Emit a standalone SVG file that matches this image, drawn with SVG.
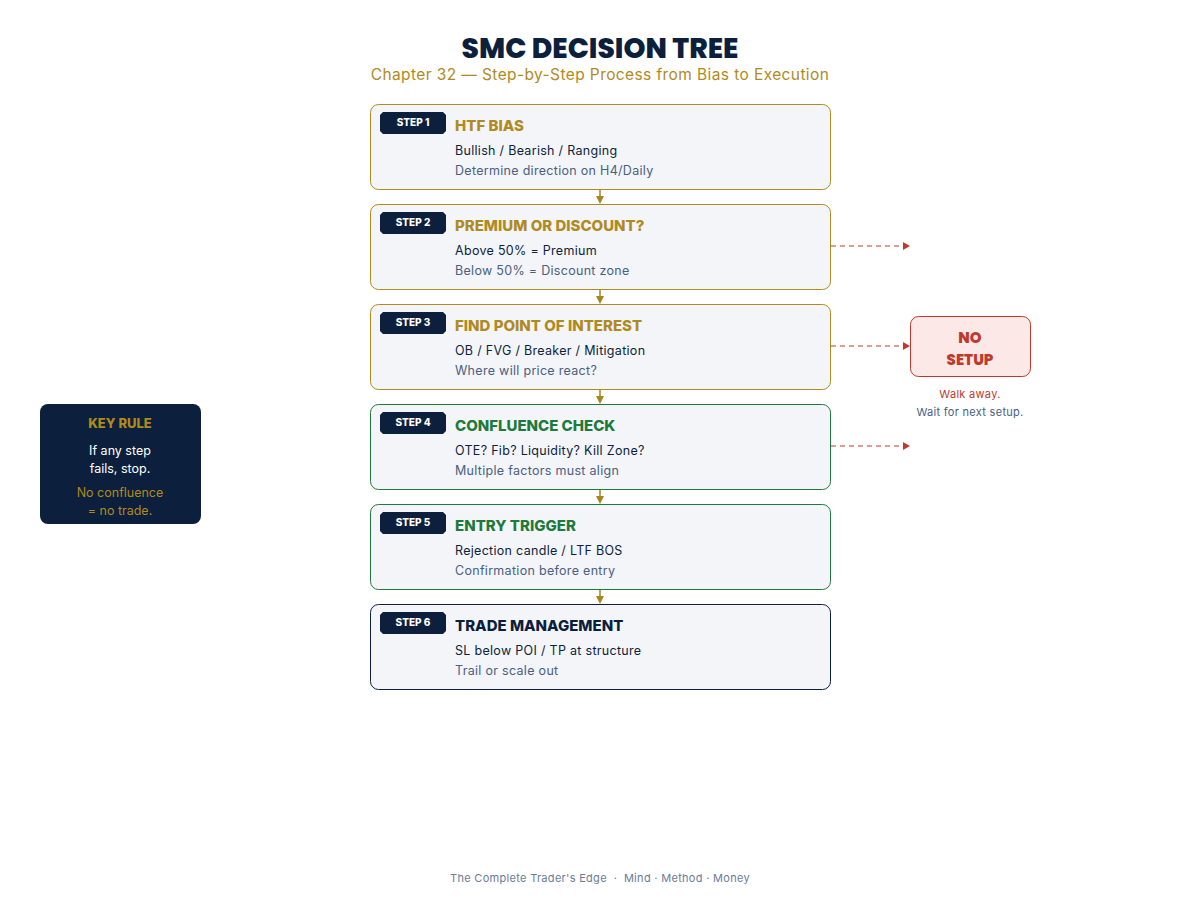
<svg xmlns="http://www.w3.org/2000/svg" width="1200" height="900" viewBox="0 0 1200 900">
<style>
.box{fill:#f3f5f9;stroke-width:1}
.gold{stroke:#b08a1e}.green{stroke:#1e7a3c}.navy{stroke:#0c1f3c}
.badge{fill:#0c1f3c}
.bt{font-family:Inter,"Liberation Sans",sans-serif;font-size:10px;font-weight:800;fill:#fff}
.h{font-family:Inter,"Liberation Sans",sans-serif;font-size:15px;font-weight:800}
.l1{font-family:Inter,"Liberation Sans",sans-serif;font-size:12.5px;fill:#0c1f3c;letter-spacing:0.3px}
.l2{font-family:Inter,"Liberation Sans",sans-serif;font-size:12.5px;fill:#4a6080;letter-spacing:0.3px}
.down{stroke:#a8841c;stroke-width:1.5}
.ah{fill:#a8841c}
.dash{stroke:#c0392b;stroke-width:1.2;stroke-dasharray:5 4;fill:none}
</style>
<defs>
<marker id="ar" markerWidth="8" markerHeight="8" refX="7" refY="4" orient="auto" markerUnits="userSpaceOnUse"><path d="M0,0 L7,4 L0,8 Z" fill="#c0392b"/></marker>
</defs>
<rect width="1200" height="900" fill="#fff"/>
<text x="600" y="58" text-anchor="middle" font-family="Poppins,Inter,'Liberation Sans',sans-serif" font-size="28" font-weight="800" fill="#0c1f3c">SMC DECISION TREE</text>
<text x="600" y="80" text-anchor="middle" font-family="Inter,'Liberation Sans',sans-serif" font-size="15.5" letter-spacing="0.4" fill="#b08a1e">Chapter 32 — Step-by-Step Process from Bias to Execution</text>

<g id="connectors">
<line class="down" x1="600" y1="190" x2="600" y2="197"/><polygon class="ah" points="596,196 604,196 600,204"/>
<line class="down" x1="600" y1="290" x2="600" y2="297"/><polygon class="ah" points="596,296 604,296 600,304"/>
<line class="down" x1="600" y1="390" x2="600" y2="397"/><polygon class="ah" points="596,396 604,396 600,404"/>
<line class="down" x1="600" y1="490" x2="600" y2="497"/><polygon class="ah" points="596,496 604,496 600,504"/>
<line class="down" x1="600" y1="590" x2="600" y2="597"/><polygon class="ah" points="596,596 604,596 600,604"/>
<line class="dash" x1="831" y1="246" x2="910" y2="246" marker-end="url(#ar)"/>
<line class="dash" x1="831" y1="346" x2="910" y2="346" marker-end="url(#ar)"/>
<line class="dash" x1="831" y1="446" x2="910" y2="446" marker-end="url(#ar)"/>
</g>

<g id="step1"><rect class="box gold" x="370.5" y="104.5" width="460" height="85" rx="8"/>
<polygon class="badge" points="383,112 443,112 446,115 446,131 443,134 383,134 380,131 380,115"/>
<text class="bt" x="413" y="126" text-anchor="middle">STEP 1</text>
<text class="h" x="455" y="131" fill="#b08a1e">HTF BIAS</text>
<text class="l1" x="455" y="155">Bullish / Bearish / Ranging</text>
<text class="l2" x="455" y="175">Determine direction on H4/Daily</text></g>

<g id="step2"><rect class="box gold" x="370.5" y="204.5" width="460" height="85" rx="8"/>
<polygon class="badge" points="383,212 443,212 446,215 446,231 443,234 383,234 380,231 380,215"/>
<text class="bt" x="413" y="226" text-anchor="middle">STEP 2</text>
<text class="h" x="455" y="231" fill="#b08a1e">PREMIUM OR DISCOUNT?</text>
<text class="l1" x="455" y="255">Above 50% = Premium</text>
<text class="l2" x="455" y="275">Below 50% = Discount zone</text></g>

<g id="step3"><rect class="box gold" x="370.5" y="304.5" width="460" height="85" rx="8"/>
<polygon class="badge" points="383,312 443,312 446,315 446,331 443,334 383,334 380,331 380,315"/>
<text class="bt" x="413" y="326" text-anchor="middle">STEP 3</text>
<text class="h" x="455" y="331" fill="#b08a1e">FIND POINT OF INTEREST</text>
<text class="l1" x="455" y="355">OB / FVG / Breaker / Mitigation</text>
<text class="l2" x="455" y="375">Where will price react?</text></g>

<g id="step4"><rect class="box green" x="370.5" y="404.5" width="460" height="85" rx="8"/>
<polygon class="badge" points="383,412 443,412 446,415 446,431 443,434 383,434 380,431 380,415"/>
<text class="bt" x="413" y="426" text-anchor="middle">STEP 4</text>
<text class="h" x="455" y="431" fill="#1e7a3c">CONFLUENCE CHECK</text>
<text class="l1" x="455" y="455">OTE? Fib? Liquidity? Kill Zone?</text>
<text class="l2" x="455" y="475">Multiple factors must align</text></g>

<g id="step5"><rect class="box green" x="370.5" y="504.5" width="460" height="85" rx="8"/>
<polygon class="badge" points="383,512 443,512 446,515 446,531 443,534 383,534 380,531 380,515"/>
<text class="bt" x="413" y="526" text-anchor="middle">STEP 5</text>
<text class="h" x="455" y="531" fill="#1e7a3c">ENTRY TRIGGER</text>
<text class="l1" x="455" y="555">Rejection candle / LTF BOS</text>
<text class="l2" x="455" y="575">Confirmation before entry</text></g>

<g id="step6"><rect class="box navy" x="370.5" y="604.5" width="460" height="85" rx="8"/>
<polygon class="badge" points="383,612 443,612 446,615 446,631 443,634 383,634 380,631 380,615"/>
<text class="bt" x="413" y="626" text-anchor="middle">STEP 6</text>
<text class="h" x="455" y="631" fill="#0c1f3c">TRADE MANAGEMENT</text>
<text class="l1" x="455" y="655">SL below POI / TP at structure</text>
<text class="l2" x="455" y="675">Trail or scale out</text></g>

<g id="nosetup"><rect x="910.5" y="316.5" width="120" height="60" rx="8" fill="#fce8e6" stroke="#c0392b"/>
<text x="970" y="343" text-anchor="middle" font-family="Poppins,Inter,'Liberation Sans',sans-serif" font-size="15" font-weight="800" fill="#c0392b">NO</text>
<text x="970" y="365" text-anchor="middle" font-family="Poppins,Inter,'Liberation Sans',sans-serif" font-size="15" font-weight="800" fill="#c0392b">SETUP</text>
<text x="970" y="398" text-anchor="middle" font-family="Inter,'Liberation Sans',sans-serif" font-size="11" letter-spacing="0.3" fill="#c0392b">Walk away.</text>
<text x="970" y="416" text-anchor="middle" font-family="Inter,'Liberation Sans',sans-serif" font-size="11" letter-spacing="0.3" fill="#4a6080">Wait for next setup.</text></g>

<g id="keyrule"><rect x="40" y="404" width="161" height="120" rx="8" fill="#0c1f3c"/>
<text x="120" y="428" text-anchor="middle" font-family="Inter,'Liberation Sans',sans-serif" font-size="13" font-weight="800" fill="#b08a1e">KEY RULE</text>
<text x="120" y="455" text-anchor="middle" font-family="Inter,'Liberation Sans',sans-serif" font-size="12.5" fill="#fff">If any step</text>
<text x="120" y="473" text-anchor="middle" font-family="Inter,'Liberation Sans',sans-serif" font-size="12.5" fill="#fff">fails, stop.</text>
<text x="120" y="497" text-anchor="middle" font-family="Inter,'Liberation Sans',sans-serif" font-size="12.5" fill="#b08a1e">No confluence</text>
<text x="120" y="515" text-anchor="middle" font-family="Inter,'Liberation Sans',sans-serif" font-size="12.5" fill="#b08a1e">= no trade.</text></g>

<text x="600" y="882" text-anchor="middle" font-family="Inter,'Liberation Sans',sans-serif" font-size="11" letter-spacing="0.3" fill="#6a7c98" xml:space="preserve">The Complete Trader's Edge  ·  Mind · Method · Money</text>
</svg>
